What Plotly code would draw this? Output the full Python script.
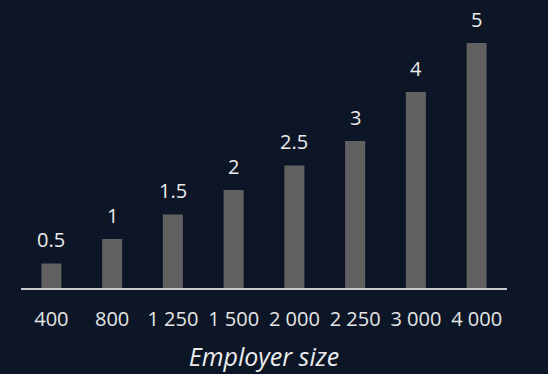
import plotly.graph_objects as go

sizes = ['400', '800', '1 250', '1 500', '2 000', '2 250', '3 000', '4 000']
values = [0.5, 1, 1.5, 2, 2.5, 3, 4, 5]
value_labels = ['0.5', '1', '1.5', '2', '2.5', '3', '4', '5']

bg = '#0c1627'
font = 'Open Sans'
pos = list(range(len(sizes)))

fig = go.Figure()
fig.add_trace(go.Bar(x=pos, y=values, marker=dict(color='#616161', line=dict(width=0)),
                     hoverinfo='skip'))

# value labels sit a bit above each bar
for p, v, lab in zip(pos, values, value_labels):
    fig.add_annotation(x=p, y=v, text=lab, showarrow=False, yanchor='middle', yshift=24,
                       font=dict(family=font, size=20, color='#ececec'))

fig.update_layout(
    width=548, height=374,
    paper_bgcolor=bg, plot_bgcolor=bg,
    margin=dict(l=21, r=41, t=20, b=86),
    bargap=0.67,
    showlegend=False,
    font=dict(family=font, color='#e0e0e0'),
)
fig.update_xaxes(range=[-0.5, len(sizes) - 0.5], tickvals=pos, ticktext=sizes,
                 automargin=False,
                 showgrid=False, zeroline=False, showline=True, linecolor='#c8c8c8',
                 linewidth=1.5, ticks='', ticklabelstandoff=12,
                 tickfont=dict(size=20, color='#e6e6e6'),
                 title=dict(text='Employer size', standoff=18,
                            font=dict(size=25, style='italic', color='#ececec')))
fig.update_yaxes(visible=False, range=[0, 5.47], showgrid=False, zeroline=False)

fig.write_html('out.html', config={'displayModeBar': False},
               post_script="document.body.style.margin='0';document.body.style.background='%s';" % bg)
